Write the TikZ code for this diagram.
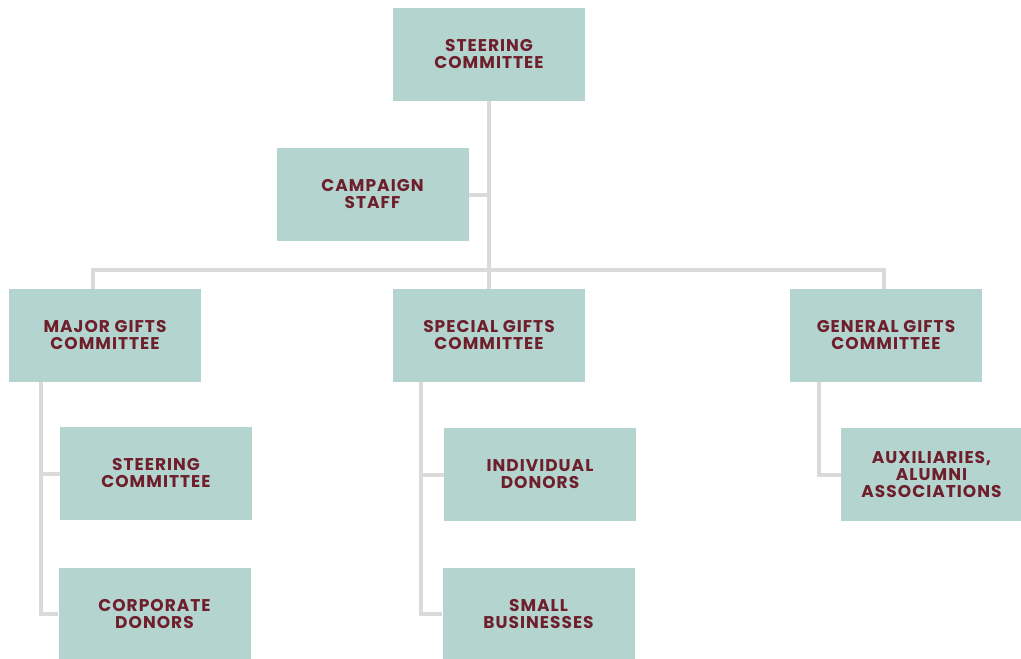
\documentclass[tikz,border=0pt]{standalone}
\usepackage{xcolor}
\usepackage{fontspec}
\setmainfont{Poppins}[LetterSpace=6]
\usepackage{tikz}

\definecolor{boxfill}{HTML}{B4D4D0}
\definecolor{boxtext}{HTML}{6E1F2B}
\definecolor{linkgray}{HTML}{DADADA}

\tikzset{
  unit/.style={rectangle, fill=boxfill, text=boxtext, minimum width=192pt, minimum height=93pt,
    align=center, font=\fontsize{17}{17}\selectfont\bfseries, inner sep=0pt},
  link/.style={draw=linkgray, line width=4pt}
}

\begin{document}
\begin{tikzpicture}[x=1pt, y=-1pt]
          \useasboundingbox (0,0) rectangle (1021,659);

          \node[unit] (steer) at (489,54.5) {STEERING\\COMMITTEE};
          \node[unit] (staff) at (372.5,194.5) {CAMPAIGN\\STAFF};
          \node[unit] (major) at (105,335.5) {MAJOR GIFTS\\COMMITTEE};
          \node[unit] (special) at (489,335.5) {SPECIAL GIFTS\\COMMITTEE};
          \node[unit] (general) at (886,335.5) {GENERAL GIFTS\\COMMITTEE};

          \node[unit] (substeer) at (156,473.5) {STEERING\\COMMITTEE};
          \node[unit] (corporate) at (154.5,614) {CORPORATE\\DONORS};
          \node[unit] (individual) at (540,474.5) {INDIVIDUAL\\DONORS};
          \node[unit] (small) at (538.5,614) {SMALL\\BUSINESSES};
          \node[unit, minimum width=181pt] (aux) at (931.5,474.5) {AUXILIARIES,\\ALUMNI\\ASSOCIATIONS};

          \coordinate (bar) at (489,270);

          \draw[link] (steer) -- (bar);
          \draw[link] (staff) -- (staff -| steer);
          \draw[link] ([xshift=-12pt]major.north) |- (bar) -| ([xshift=-2pt]general.north);
          \draw[link] (bar) -- (special);

          \draw[link] ([xshift=32pt]major.south west) |- (substeer.west);
          \draw[link] ([xshift=32pt]major.south west) |- (corporate.west);
          \draw[link] ([xshift=28pt]special.south west) |- (individual.west);
          \draw[link] ([xshift=28pt]special.south west) |- (small.west);
          \draw[link] ([xshift=29pt]general.south west) |- (aux.west);
        \end{tikzpicture}
\end{document}
